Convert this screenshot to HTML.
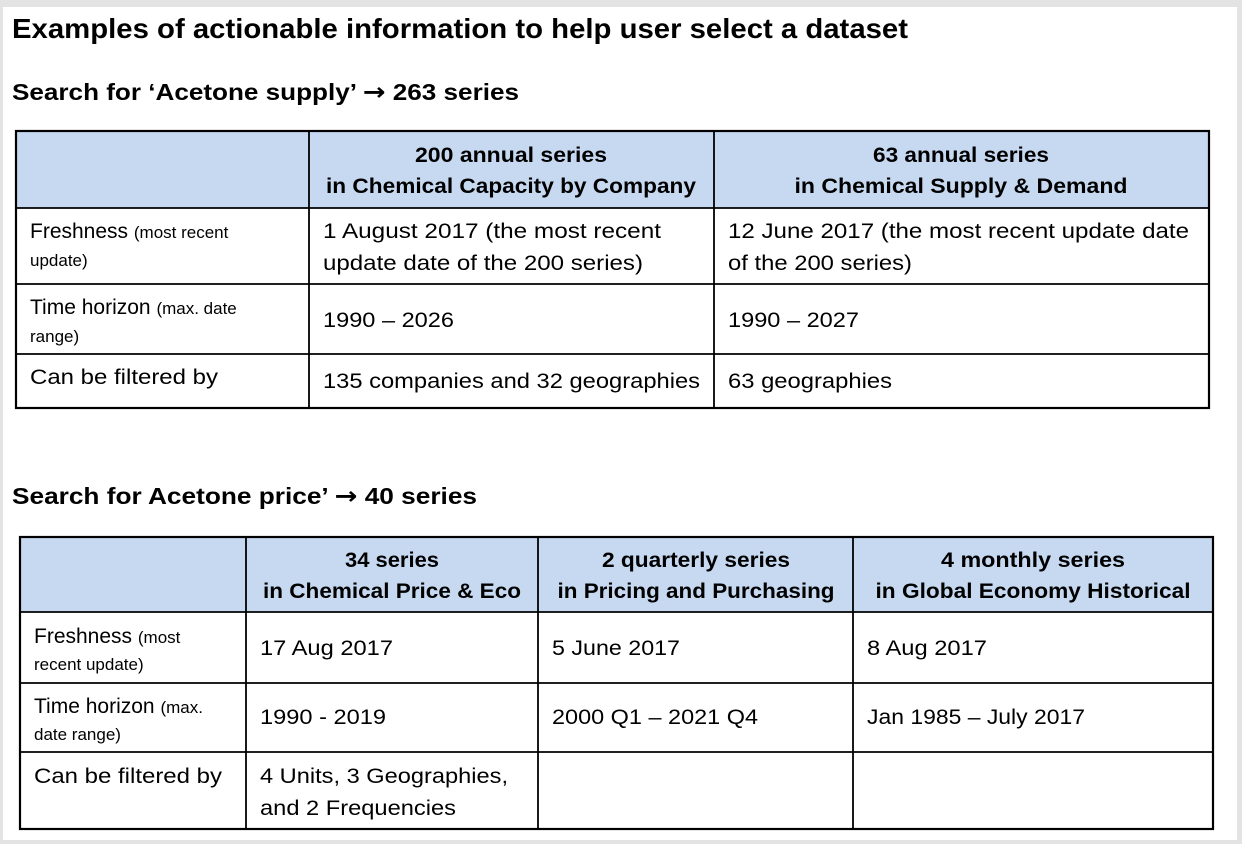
<!DOCTYPE html>
<html><head><meta charset="utf-8"><style>
html,body{margin:0;padding:0;background:#e3e3e3;}
svg{display:block;font-family:"Liberation Sans",sans-serif;}
</style></head><body>
<svg width="1242" height="844" viewBox="0 0 1242 844">
<rect x="3" y="7" width="1234" height="833" fill="#fff"/>
<text x="12" y="38" font-size="28" font-weight="bold" textLength="896" lengthAdjust="spacingAndGlyphs">Examples of actionable information to help user select a dataset</text>
<text x="12" y="100" font-size="23" font-weight="bold" textLength="507" lengthAdjust="spacingAndGlyphs">Search for ‘Acetone supply’ <tspan font-family="DejaVu Sans" font-size="24">→</tspan> 263 series</text>

<g stroke="#000" stroke-width="1.8">
<rect x="16" y="131" width="1193" height="77" fill="#c6d9f1" stroke="none"/>
<rect x="16" y="131" width="1193" height="277" fill="none" stroke-width="2.2"/>
<line x1="16" y1="208" x2="1209" y2="208"/><line x1="16" y1="284" x2="1209" y2="284"/><line x1="16" y1="354" x2="1209" y2="354"/>
<line x1="309" y1="131" x2="309" y2="408"/><line x1="714" y1="131" x2="714" y2="408"/>
</g>
<g font-size="21" fill="#000">
<text x="511" y="162" text-anchor="middle" font-weight="bold" textLength="192" lengthAdjust="spacingAndGlyphs">200 annual series</text>
<text x="511" y="193" text-anchor="middle" font-weight="bold" textLength="370" lengthAdjust="spacingAndGlyphs">in Chemical Capacity by Company</text>
<text x="961" y="162" text-anchor="middle" font-weight="bold" textLength="176" lengthAdjust="spacingAndGlyphs">63 annual series</text>
<text x="961" y="193" text-anchor="middle" font-weight="bold" textLength="333" lengthAdjust="spacingAndGlyphs">in Chemical Supply &amp; Demand</text>
<text x="30" y="238">Freshness <tspan font-size="17">(most recent</tspan></text>
<text x="30" y="266" font-size="17">update)</text>
<text x="323" y="238" textLength="338" lengthAdjust="spacingAndGlyphs">1 August 2017 (the most recent</text>
<text x="323" y="270" textLength="320" lengthAdjust="spacingAndGlyphs">update date of the 200 series)</text>
<text x="728" y="238" textLength="461" lengthAdjust="spacingAndGlyphs">12 June 2017 (the most recent update date</text>
<text x="728" y="270" textLength="184" lengthAdjust="spacingAndGlyphs">of the 200 series)</text>
<text x="30" y="314">Time horizon <tspan font-size="17">(max. date</tspan></text>
<text x="30" y="342" font-size="17">range)</text>
<text x="323" y="327" textLength="131" lengthAdjust="spacingAndGlyphs">1990 – 2026</text>
<text x="728" y="327" textLength="131" lengthAdjust="spacingAndGlyphs">1990 – 2027</text>
<text x="30" y="384" textLength="188" lengthAdjust="spacingAndGlyphs">Can be filtered by</text>
<text x="323" y="388" textLength="377" lengthAdjust="spacingAndGlyphs">135 companies and 32 geographies</text>
<text x="728" y="388" textLength="164" lengthAdjust="spacingAndGlyphs">63 geographies</text>
</g>

<text x="12" y="504" font-size="23" font-weight="bold" textLength="465" lengthAdjust="spacingAndGlyphs">Search for Acetone price’ <tspan font-family="DejaVu Sans" font-size="24">→</tspan> 40 series</text>

<g stroke="#000" stroke-width="1.8">
<rect x="20" y="537" width="1193" height="75" fill="#c6d9f1" stroke="none"/>
<rect x="20" y="537" width="1193" height="292" fill="none" stroke-width="2.2"/>
<line x1="20" y1="612" x2="1213" y2="612"/><line x1="20" y1="683" x2="1213" y2="683"/><line x1="20" y1="752" x2="1213" y2="752"/>
<line x1="246" y1="537" x2="246" y2="829"/><line x1="538" y1="537" x2="538" y2="829"/><line x1="853" y1="537" x2="853" y2="829"/>
</g>
<g font-size="21" fill="#000">
<text x="392" y="567" text-anchor="middle" font-weight="bold" textLength="94" lengthAdjust="spacingAndGlyphs">34 series</text>
<text x="392" y="598" text-anchor="middle" font-weight="bold" textLength="258" lengthAdjust="spacingAndGlyphs">in Chemical Price &amp; Eco</text>
<text x="696" y="567" text-anchor="middle" font-weight="bold" textLength="188" lengthAdjust="spacingAndGlyphs">2 quarterly series</text>
<text x="696" y="598" text-anchor="middle" font-weight="bold" textLength="277" lengthAdjust="spacingAndGlyphs">in Pricing and Purchasing</text>
<text x="1033" y="567" text-anchor="middle" font-weight="bold" textLength="184" lengthAdjust="spacingAndGlyphs">4 monthly series</text>
<text x="1033" y="598" text-anchor="middle" font-weight="bold" textLength="315" lengthAdjust="spacingAndGlyphs">in Global Economy Historical</text>
<text x="34" y="643">Freshness <tspan font-size="17">(most</tspan></text>
<text x="34" y="670" font-size="17">recent update)</text>
<text x="260" y="655" textLength="133" lengthAdjust="spacingAndGlyphs">17 Aug 2017</text>
<text x="552" y="655" textLength="128" lengthAdjust="spacingAndGlyphs">5 June 2017</text>
<text x="867" y="655" textLength="120" lengthAdjust="spacingAndGlyphs">8 Aug 2017</text>
<text x="34" y="713">Time horizon <tspan font-size="17">(max.</tspan></text>
<text x="34" y="740" font-size="17">date range)</text>
<text x="260" y="724" textLength="126" lengthAdjust="spacingAndGlyphs">1990 - 2019</text>
<text x="552" y="724" textLength="206" lengthAdjust="spacingAndGlyphs">2000 Q1 – 2021 Q4</text>
<text x="867" y="724" textLength="218" lengthAdjust="spacingAndGlyphs">Jan 1985 – July 2017</text>
<text x="34" y="783" textLength="188" lengthAdjust="spacingAndGlyphs">Can be filtered by</text>
<text x="260" y="783" textLength="248" lengthAdjust="spacingAndGlyphs">4 Units, 3 Geographies,</text>
<text x="260" y="815" textLength="196" lengthAdjust="spacingAndGlyphs">and 2 Frequencies</text>
</g>
</svg>
</body></html>
